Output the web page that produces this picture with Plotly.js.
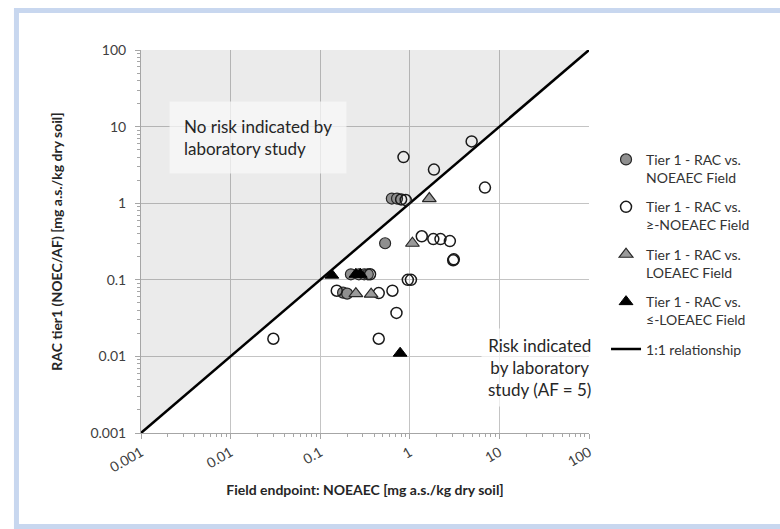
<!DOCTYPE html>
<html>
<head>
<meta charset="utf-8">
<script src="https://cdn.plot.ly/plotly-3.0.1.min.js"></script>
<style>
  html, body { margin: 0; padding: 0; background: #ffffff; }
  #chart { width: 780px; height: 529px; }
</style>
</head>
<body>
<div id="chart"></div>
<script>
// ---- Data ----
const tickValues = [0.001, 0.01, 0.1, 1, 10, 100];
const tickLabels = ['0.001', '0.01', '0.1', '1', '10', '100'];

// Tier 1 - RAC vs. NOEAEC Field (grey circles)
const noeaecX = [0.63, 0.72, 0.53, 0.22, 0.27, 0.31, 0.34, 0.18, 0.20];
const noeaecY = [1.15, 1.15, 0.30, 0.118, 0.118, 0.118, 0.118, 0.068, 0.066];

// Tier 1 - RAC vs. >=-NOEAEC Field (open circles)
const geNoeaecX = [4.9, 0.85, 1.86, 6.9, 0.80, 0.90, 1.36, 1.83, 2.2, 2.8, 3.05, 3.1, 0.95, 1.03, 0.36, 0.153, 0.45, 0.64, 0.71, 0.03, 0.45];
const geNoeaecY = [6.4, 4.0, 2.75, 1.6, 1.12, 1.1, 0.37, 0.34, 0.34, 0.32, 0.18, 0.185, 0.10, 0.10, 0.118, 0.072, 0.067, 0.072, 0.037, 0.017, 0.017];

// Tier 1 - RAC vs. LOEAEC Field (grey triangles)
const loeaecX = [1.65, 1.07, 0.25, 0.37];
const loeaecY = [1.15, 0.30, 0.066, 0.065];

// Tier 1 - RAC vs. <=-LOEAEC Field (black triangles)
const leLoeaecX = [0.135, 0.25, 0.28, 0.78];
const leLoeaecY = [0.115, 0.118, 0.118, 0.011];

// 1:1 relationship and shaded "no risk" region
const oneToOneX = [0.001, 100];
const oneToOneY = [0.001, 100];
const noRiskX = [0.001, 0.001, 100];
const noRiskY = [0.001, 100, 100];

const seriesNames = [
  'Tier 1 - RAC vs.<br>NOEAEC Field',
  'Tier 1 - RAC vs.<br>≥-NOEAEC Field',
  'Tier 1 - RAC vs.<br>LOEAEC Field',
  'Tier 1 - RAC vs.<br>≤-LOEAEC Field',
  '1:1 relationship'
];

// ---- Plot ----
const font = 'Lato, "Open Sans", "DejaVu Sans", sans-serif';

const traces = [
  {
    x: noRiskX, y: noRiskY, type: 'scatter', mode: 'lines',
    fill: 'toself', fillcolor: 'rgba(0,0,0,0.08)',
    line: {width: 0, color: 'rgba(0,0,0,0)'},
    showlegend: false, hoverinfo: 'skip'
  },
  {
    x: oneToOneX, y: oneToOneY, type: 'scatter', mode: 'lines',
    name: seriesNames[4], legendgroup: 'e', legendrank: 5,
    line: {color: '#000000', width: 2.5}
  },
  {
    x: noeaecX, y: noeaecY, type: 'scatter', mode: 'markers',
    name: seriesNames[0], legendgroup: 'a', legendrank: 1,
    marker: {symbol: 'circle', size: 11, color: '#8f8f8f', line: {color: '#262626', width: 1.2}}
  },
  {
    x: geNoeaecX, y: geNoeaecY, type: 'scatter', mode: 'markers',
    name: seriesNames[1], legendgroup: 'b', legendrank: 2,
    marker: {symbol: 'circle-open', size: 11, color: '#1a1a1a', line: {color: '#1a1a1a', width: 1.5}}
  },
  {
    x: loeaecX, y: loeaecY, type: 'scatter', mode: 'markers',
    name: seriesNames[2], legendgroup: 'c', legendrank: 3,
    marker: {symbol: 'triangle-up', size: 12, color: '#9a9a9a', line: {color: '#262626', width: 1.2}}
  },
  {
    x: leLoeaecX, y: leLoeaecY, type: 'scatter', mode: 'markers',
    name: seriesNames[3], legendgroup: 'd', legendrank: 4,
    marker: {symbol: 'triangle-up', size: 12, color: '#000000', line: {color: '#000000', width: 1}}
  }
];

const axisCommon = {
  type: 'log',
  range: [-3, 2],
  tickmode: 'array',
  tickvals: tickValues,
  ticktext: tickLabels,
  showgrid: true,
  gridcolor: '#c4c4c4',
  gridwidth: 1.3,
  zeroline: false,
  showline: true,
  linecolor: '#a6a6a6',
  linewidth: 1,
  ticks: 'outside',
  ticklen: 5,
  tickcolor: '#a6a6a6',
  minor: {ticks: 'outside', ticklen: 3, tickcolor: '#a6a6a6', dtick: 'D1', showgrid: false},
  tickfont: {family: font, size: 14, color: '#404040'},
  automargin: false
};

const layout = {
  width: 780,
  height: 529,
  margin: {l: 141, r: 191, t: 50, b: 96},
  paper_bgcolor: '#ffffff',
  plot_bgcolor: '#ffffff',
  font: {family: font, color: '#333333'},
  showlegend: true,
  legend: {
    x: 1.038, xanchor: 'left',
    y: 0.755, yanchor: 'top',
    font: {family: font, size: 14, color: '#333333'},
    tracegroupgap: 8,
    valign: 'top',
    bgcolor: 'rgba(0,0,0,0)'
  },
  xaxis: Object.assign({}, axisCommon, {
    tickangle: -30,
    title: {text: 'Field endpoint: NOEAEC [mg a.s./kg dry soil]', font: {family: font, size: 14, color: '#262626', weight: 'bold'}, standoff: 10}
  }),
  yaxis: Object.assign({}, axisCommon, {
    ticklabelstandoff: 6,
    title: {text: 'RAC tier1 (NOEC/AF) [mg a.s./kg dry soil]', font: {family: font, size: 14, color: '#262626', weight: 'bold'}, standoff: 24}
  }),
  annotations: [
    {
      xref: 'paper', yref: 'paper', x: 0.262, y: 0.7715,
      xanchor: 'center', yanchor: 'middle',
      text: 'No risk indicated by<br>laboratory study',
      align: 'left', showarrow: false,
      font: {family: font, size: 17, color: '#262626'},
      bgcolor: 'rgba(248,248,248,0.75)', borderpad: 14
    },
    {
      xref: 'paper', yref: 'paper', x: 0.89, y: 0.17,
      xanchor: 'center', yanchor: 'middle',
      text: 'Risk indicated<br>by laboratory<br>study (AF = 5)',
      align: 'center', showarrow: false,
      font: {family: font, size: 17, color: '#262626'},
      bgcolor: 'rgba(255,255,255,0.7)', borderpad: 6
    }
  ],
  shapes: [
    {
      type: 'rect', xref: 'paper', yref: 'paper',
      x0: -0.278, x1: 1.895, y0: -0.244, y1: 1.103,
      line: {color: '#c8d7ef', width: 5},
      fillcolor: 'rgba(0,0,0,0)', layer: 'below'
    }
  ]
};

Plotly.newPlot('chart', traces, layout, {displayModeBar: false, staticPlot: true});
</script>
</body>
</html>
